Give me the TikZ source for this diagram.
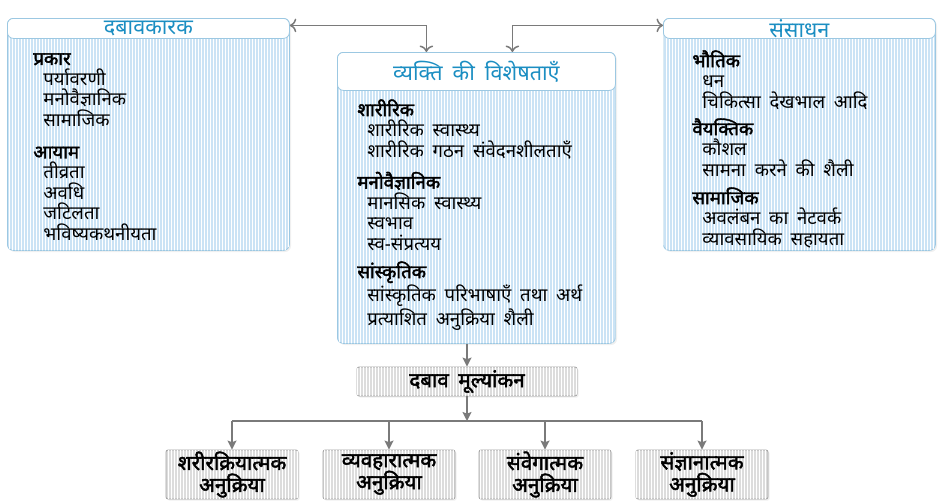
\documentclass[tikz,border=0pt]{standalone}
\usepackage{fontspec}
\setmainfont{Noto Sans}[Script=Devanagari, AutoFakeBold=2.2, WordSpace=1.8]
\usetikzlibrary{arrows.meta,positioning,patterns.meta,shadows}
\definecolor{frame}{HTML}{9CC8E2}
\definecolor{headtxt}{HTML}{1B8EC2}
\definecolor{lblue}{HTML}{CBE3F5}
\definecolor{lgray}{HTML}{DCDCDC}
\definecolor{linegray}{HTML}{7A7A7A}
\newcommand{\itm}{\hspace*{5pt}}

\begin{document}
\begin{tikzpicture}[x=0.5pt, y=-0.5pt, font=\fontsize{9.3}{10.25}\selectfont,
    panel/.style={draw=frame, rounded corners=3pt, fill=lblue, anchor=north west, inner sep=0pt,
      drop shadow={opacity=0.12, shadow xshift=0.8pt, shadow yshift=-0.8pt},
      postaction={pattern={Lines[angle=90, distance=1.5pt, line width=0.5pt]}, pattern color=white}},
    headbox/.style={draw=frame, rounded corners=3pt, fill=white, anchor=north west, inner sep=0pt,
      text=headtxt, font=\fontsize{10.8}{12}\selectfont},
    body/.style={anchor=north west, align=left, inner sep=0pt},
    resp/.style={draw=linegray!70, rounded corners=1pt, fill=lgray, align=center, inner sep=0pt,
      minimum width=66pt, minimum height=24.5pt, font=\fontsize{10.3}{11}\selectfont\bfseries,
      drop shadow={opacity=0.12, shadow xshift=0.8pt, shadow yshift=-0.8pt},
      postaction={pattern={Lines[angle=90, distance=1.5pt, line width=0.5pt]}, pattern color=white}},
    conn/.style={-{Stealth[length=4.5pt, width=4.5pt, inset=0.8pt]}, linegray, line width=0.75pt}]
  \useasboundingbox (0,0) rectangle (942,503);
  % stressors
  \node[panel, minimum width=141pt, minimum height=116pt] (dk) at (7,18) {};
  \node[headbox, minimum width=141pt, minimum height=10pt] (dkh) at (7,18) {दबावकारक};
  \node[body] (dkt) at (33,53) {\textbf{प्रकार}\\
    \itm पर्यावरणी\\ \itm मनोवैज्ञानिक\\ \itm सामाजिक\\[5.75pt]
    \textbf{आयाम}\\
    \itm तीव्रता\\ \itm अवधि\\ \itm जटिलता\\ \itm भविष्यकथनीयता};
  % individual characteristics
  \node[panel, minimum width=139pt, minimum height=145.5pt] (vv) at (337,52) {};
  \node[headbox, minimum width=139pt, minimum height=19pt] (vvh) at (337,52) {व्यक्ति की विशेषताएँ};
  \node[body] (vvt) at (357,99) {\textbf{शारीरिक}\\
    \itm शारीरिक स्वास्थ्य\\ \itm शारीरिक गठन संवेदनशीलताएँ\\[5.5pt]
    \textbf{मनोवैज्ञानिक}\\
    \itm मानसिक स्वास्थ्य\\ \itm स्वभाव\\ \itm स्व-संप्रत्यय\\[3.75pt]
    \textbf{सांस्कृतिक}\\
    \itm सांस्कृतिक परिभाषाएँ तथा अर्थ\\ \itm प्रत्याशित अनुक्रिया शैली};
  % resources
  \node[panel, minimum width=136pt, minimum height=116pt] (sn) at (663,18) {};
  \node[headbox, minimum width=136pt, minimum height=10pt] (snh) at (663,18) {संसाधन};
  \node[body] (snt) at (692,50) {\textbf{भौतिक}\\
    \itm धन\\ \itm चिकित्सा देखभाल आदि\\[3.25pt]
    \textbf{वैयक्तिक}\\
    \itm कौशल\\ \itm सामना करने की शैली\\[3.75pt]
    \textbf{सामाजिक}\\
    \itm अवलंबन का नेटवर्क\\ \itm व्यावसायिक सहायता};
  % appraisal and responses
  \node[resp, minimum width=110pt, minimum height=14.5pt] (dm) at (467,381.5) {दबाव मूल्यांकन};
  \coordinate (hub) at (467,421);
  \node[resp] (r1) at (232,474.5) {शरीरक्रियात्मक\\अनुक्रिया};
  \node[resp] (r2) at (389,474.5) {व्यवहारात्मक\\अनुक्रिया};
  \node[resp] (r3) at (545,474.5) {संवेगात्मक\\अनुक्रिया};
  \node[resp] (r4) at (702,474.5) {संज्ञानात्मक\\अनुक्रिया};
  \draw[conn, <->] ([yshift=1.5pt]dkh.east) -| ([xshift=-25pt]vvh.north);
  \draw[conn, <->] ([xshift=18pt]vvh.north) |- ([yshift=1.5pt]snh.west);
  \draw[conn] (dm.north |- vv.south) -- (dm.north);
  \draw[conn] (dm) -- (hub);
  \draw[linegray, line width=0.75pt] (r1.north |- hub) -- (r4.north |- hub);
  \foreach \r in {r1,r2,r3,r4}
    \draw[conn] (\r.north |- hub) -- (\r.north);
\end{tikzpicture}
\end{document}
